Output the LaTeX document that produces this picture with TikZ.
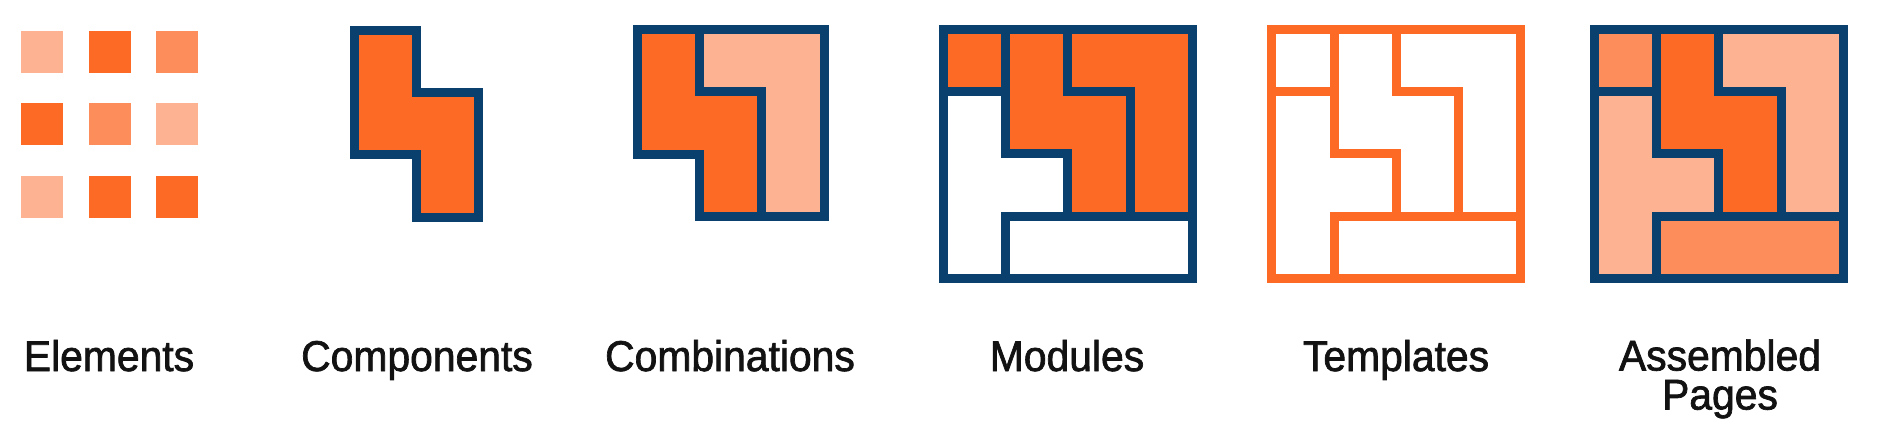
\documentclass[tikz,border=0pt]{standalone}
\usepackage{fontspec}
\setmainfont[FakeStretch=0.95, FakeBold=1.6]{Liberation Sans}
\definecolor{navy}{HTML}{0A406D}
\definecolor{dkorange}{HTML}{FC6A25}
\definecolor{mdorange}{HTML}{FD8D5A}
\definecolor{ltorange}{HTML}{FDB291}
\tikzset{
  tile/.style={rectangle, minimum size=42pt, inner sep=0pt},
  part/.style={draw=navy, line width=9pt, line join=miter},
  lbl/.style={anchor=base, inner sep=0pt, font=\fontsize{43}{39}\selectfont, text=black!93}
}
\begin{document}
\begin{tikzpicture}[x=1pt, y=-1pt]
	\useasboundingbox (0,0) rectangle (1877,441);
	
	%elements
	\foreach \x/\y/\c/\n in {42/52/ltorange/a, 110/52/dkorange/b, 177/52/mdorange/c,
			42/124/dkorange/d, 110/124/mdorange/e, 177/124/ltorange/f,
			42/197/ltorange/g, 110/197/dkorange/h, 177/197/dkorange/i}{
		\node[tile, fill=\c] (el\n) at (\x,\y){};
	}
	
	%components
	\begin{scope}[shift={(354.5,30.5)}, x=62.2pt, y=-62.2pt]
		\draw[part, fill=dkorange] (0,0) -- (1,0) -- (1,1) -- (2,1) -- (2,3) -- (1,3) -- (1,2) -- (0,2) -- cycle;
	\end{scope}
	
	%combinations
	\begin{scope}[shift={(637.5,29.7)}, x=62.2pt, y=-62.2pt]
		\draw[part, fill=dkorange] (0,0) -- (1,0) -- (1,1) -- (2,1) -- (2,3) -- (1,3) -- (1,2) -- (0,2) -- cycle;
		\draw[part, fill=ltorange] (1,0) -- (3,0) -- (3,3) -- (2,3) -- (2,1) -- (1,1) -- cycle;
	\end{scope}
	
	%modules, templates, assembled pages
	\foreach \ox/\ln/\fa/\fb/\fc/\fd/\fe in {943.5/navy/dkorange/dkorange/dkorange/white/white,
			1271.8/dkorange/white/white/white/white/white,
			1594.5/navy/mdorange/dkorange/ltorange/ltorange/mdorange}{
		\begin{scope}[shift={(\ox,29.5)}, x=62.2pt, y=-62.2pt]
			\draw[part, draw=\ln, fill=\fa] (0,0) rectangle (1,1);
			\draw[part, draw=\ln, fill=\fb] (1,0) -- (2,0) -- (2,1) -- (3,1) -- (3,3) -- (2,3) -- (2,2) -- (1,2) -- cycle;
			\draw[part, draw=\ln, fill=\fc] (2,0) -- (4,0) -- (4,3) -- (3,3) -- (3,1) -- (2,1) -- cycle;
			\draw[part, draw=\ln, fill=\fd] (0,1) -- (1,1) -- (1,2) -- (2,2) -- (2,3) -- (1,3) -- (1,4) -- (0,4) -- cycle;
			\draw[part, draw=\ln, fill=\fe] (1,3) rectangle (4,4);
		\end{scope}
	}
	
	%labels
	\node[lbl] (elements) at (109, 371){Elements};
	\node[lbl] (components) at (417, 371){Components};
	\node[lbl] (combinations) at (730, 371){Combinations};
	\node[lbl] (modules) at (1067, 371){Modules};
	\node[lbl] (templates) at (1396, 371){Templates};
	\node[lbl, align=center] (pages) at (1720, 409.5){Assembled\\Pages};
\end{tikzpicture}
\end{document}
